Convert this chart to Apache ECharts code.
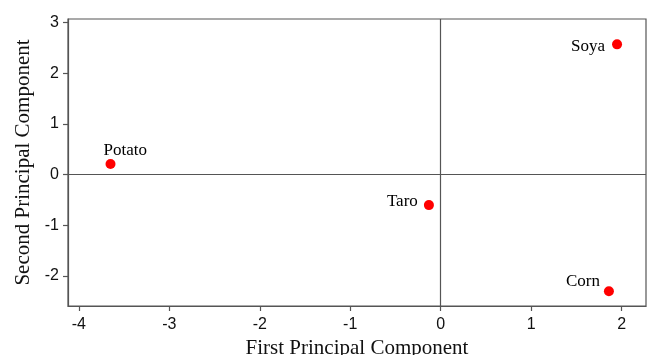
<!DOCTYPE html>
<html>
<head>
<meta charset="utf-8">
<script src="https://cdn.jsdelivr.net/npm/echarts@6/dist/echarts.min.js"></script>
<style>
  html, body { margin: 0; padding: 0; background: #fff; }
  #chart { width: 648px; height: 355px; }
</style>
</head>
<body>
<div id="chart"></div>
<script>
// Crop scores on the first two principal components
const crops = ['Potato', 'Taro', 'Soya', 'Corn'];
const pc1 = [-3.65, -0.13, 1.95, 1.86];
const pc2 = [0.21, -0.60, 2.57, -2.30];

const xTicks = [-4, -3, -2, -1, 0, 1, 2];
const yTicks = [-2, -1, 0, 1, 2, 3];

// Where each crop's name sits relative to its marker (top-left of the text)
const labelOffsets = {
  Potato: [-2, -17],
  Taro: [-37, -7],
  Soya: [-41, -1],
  Corn: [-38, -13]
};

const axisColor = '#555';
const serif = '"Liberation Serif", "DejaVu Serif", serif';
const sans = '"Liberation Sans", Arial, sans-serif';

const points = crops.map((name, i) => ({
  name: name,
  value: [pc1[i], pc2[i]],
  label: {
    show: true,
    position: labelOffsets[name],
    formatter: name,
    fontFamily: serif,
    fontSize: 17,
    color: '#000',
    opacity: 1
  }
}));

const chart = echarts.init(document.getElementById('chart'));
chart.setOption({
  animation: false,
  grid: {
    left: 68, right: 2, top: 19, bottom: 49,
    containLabel: false,
    outerBoundsMode: 'none',
    show: true, borderColor: axisColor, borderWidth: 1.2
  },
  xAxis: {
    type: 'value',
    min: -4.12, max: 2.27,
    name: 'First Principal Component',
    nameLocation: 'middle',
    nameGap: 30,
    nameTextStyle: { fontFamily: serif, fontSize: 21, color: '#111' },
    axisLine: { show: true, onZero: false, lineStyle: { color: axisColor, width: 1.2 } },
    axisTick: { show: true, inside: false, length: 5, customValues: xTicks, lineStyle: { color: axisColor, width: 1.2 } },
    axisLabel: { customValues: xTicks, fontFamily: sans, fontSize: 16, color: '#111', margin: 11 },
    splitLine: { show: false }
  },
  yAxis: {
    type: 'value',
    min: -2.59, max: 3.07,
    name: 'Second Principal Component',
    nameLocation: 'middle',
    nameGap: 31,
    nameTextStyle: { fontFamily: serif, fontSize: 21, color: '#111' },
    axisLine: { show: true, onZero: false, lineStyle: { color: axisColor, width: 1.2 } },
    axisTick: { show: true, inside: false, length: 5, customValues: yTicks, lineStyle: { color: axisColor, width: 1.2 } },
    axisLabel: { customValues: yTicks, fontFamily: sans, fontSize: 16, color: '#111', margin: 9 },
    splitLine: { show: false }
  },
  series: [{
    type: 'scatter',
    symbol: 'circle',
    symbolSize: 10,
    itemStyle: { color: '#ff0000', opacity: 1 },
    data: points,
    markLine: {
      silent: true,
      symbol: 'none',
      label: { show: false },
      lineStyle: { color: axisColor, type: 'solid', width: 1.2 },
      data: [{ xAxis: 0 }, { yAxis: 0 }]
    },
    z: 3
  }]
});
</script>
</body>
</html>
